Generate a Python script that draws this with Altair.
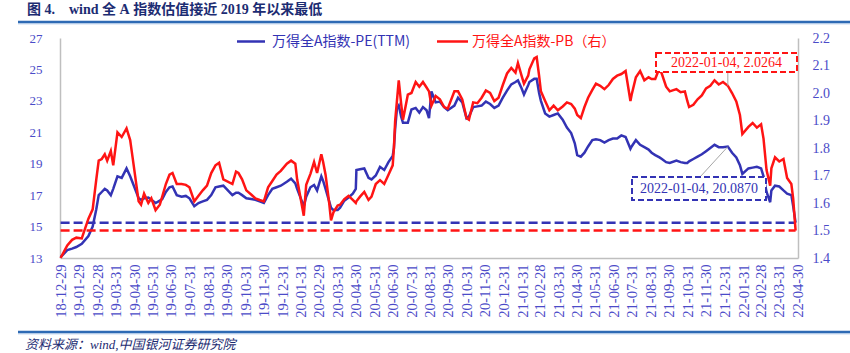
import altair as alt
import pandas as pd

# ---------------- data ----------------
dates = [
    "2018-12-28",
    "2019-01-08", "2019-01-16", "2019-01-23",
    "2019-02-01", "2019-02-12", "2019-02-19", "2019-02-25",
    "2019-03-01", "2019-03-06", "2019-03-11", "2019-03-15", "2019-03-21", "2019-03-25",
    "2019-04-01", "2019-04-08", "2019-04-16", "2019-04-22", "2019-04-26",
    "2019-05-06", "2019-05-10", "2019-05-15", "2019-05-22", "2019-05-27",
    "2019-06-03", "2019-06-10", "2019-06-14", "2019-06-20", "2019-06-26",
    "2019-07-01", "2019-07-08", "2019-07-16", "2019-07-23", "2019-07-29",
    "2019-08-06", "2019-08-13", "2019-08-20", "2019-08-27",
    "2019-09-03", "2019-09-10", "2019-09-16", "2019-09-23",
    "2019-10-08", "2019-10-14", "2019-10-18", "2019-10-24", "2019-10-31",
    "2019-11-08", "2019-11-15", "2019-11-22", "2019-11-29",
    "2019-12-06", "2019-12-13", "2019-12-20", "2019-12-27",
    "2020-01-06", "2020-01-13", "2020-01-20", "2020-01-23",
    "2020-02-03", "2020-02-07", "2020-02-14", "2020-02-20", "2020-02-25",
    "2020-03-03", "2020-03-06", "2020-03-10", "2020-03-16", "2020-03-19", "2020-03-23", "2020-03-30",
    "2020-04-03", "2020-04-10", "2020-04-17", "2020-04-24", "2020-04-29", "2020-04-30",
    "2020-05-06", "2020-05-13", "2020-05-20", "2020-05-25",
    "2020-06-01", "2020-06-08", "2020-06-15", "2020-06-22", "2020-06-29",
    "2020-07-01", "2020-07-03", "2020-07-06", "2020-07-09", "2020-07-13", "2020-07-16", "2020-07-24", "2020-07-30",
    "2020-08-06", "2020-08-12", "2020-08-18", "2020-08-24", "2020-08-28",
    "2020-09-01", "2020-09-08", "2020-09-15", "2020-09-22", "2020-09-28",
    "2020-10-09", "2020-10-15", "2020-10-22", "2020-10-29",
    "2020-11-02", "2020-11-09", "2020-11-16", "2020-11-23", "2020-11-30",
    "2020-12-07", "2020-12-14", "2020-12-21", "2020-12-28",
    "2021-01-04", "2021-01-11", "2021-01-18", "2021-01-22", "2021-01-28",
    "2021-02-01", "2021-02-08", "2021-02-10", "2021-02-18", "2021-02-22", "2021-02-26",
    "2021-03-01", "2021-03-08", "2021-03-15", "2021-03-22", "2021-03-29",
    "2021-04-06", "2021-04-13", "2021-04-20", "2021-04-26", "2021-04-30",
    "2021-05-06", "2021-05-12", "2021-05-18", "2021-05-25", "2021-05-31",
    "2021-06-07", "2021-06-14", "2021-06-21", "2021-06-28",
    "2021-07-05", "2021-07-12", "2021-07-19", "2021-07-27", "2021-07-29",
    "2021-08-05", "2021-08-12", "2021-08-19", "2021-08-26", "2021-08-31",
    "2021-09-06", "2021-09-13", "2021-09-17", "2021-09-24", "2021-09-30",
    "2021-10-11", "2021-10-18", "2021-10-25", "2021-10-29",
    "2021-11-01", "2021-11-08", "2021-11-15", "2021-11-22", "2021-11-29",
    "2021-12-06", "2021-12-13", "2021-12-20", "2021-12-27",
    "2022-01-04", "2022-01-11", "2022-01-18", "2022-01-24", "2022-01-28",
    "2022-02-07", "2022-02-14", "2022-02-21", "2022-02-28",
    "2022-03-04", "2022-03-09", "2022-03-15", "2022-03-17", "2022-03-23", "2022-03-30",
    "2022-04-06", "2022-04-12", "2022-04-19", "2022-04-22", "2022-04-26",
]

pe_values = [
    13.05,
    13.5, 13.6, 13.7,
    13.9, 14.4, 15.0, 16.1,
    17.0, 17.2, 17.4, 17.3, 17.0, 17.4,
    18.2, 18.1, 18.7, 18.2, 17.8,
    16.8, 16.7, 16.8, 16.85, 16.7,
    16.5, 16.65, 16.75, 17.2, 17.5,
    17.55, 17.0, 16.9, 16.95, 16.8,
    16.3, 16.5, 16.6, 16.7,
    17.0, 17.5, 17.55, 17.6,
    17.0, 17.15, 17.15, 17.0, 16.8,
    16.75, 16.7, 16.6, 16.5,
    17.0, 17.4, 17.5, 17.6,
    17.85, 18.05, 17.75, 17.4,
    16.3, 16.9, 17.5, 17.65, 17.3,
    18.2, 17.9, 17.4, 16.6, 16.2, 16.05, 16.05,
    16.2, 16.65, 16.85, 17.1, 17.4, 18.6,
    18.65, 18.7, 18.1, 18.0,
    18.25, 18.8, 18.6, 19.1, 19.5,
    20.0, 21.2, 22.5, 22.7, 22.0, 21.6, 21.6, 22.45,
    22.55, 22.25, 22.6, 22.4, 21.9,
    23.6, 22.9, 22.95, 22.6, 22.4,
    22.7, 23.2, 22.9, 21.9,
    22.0, 22.6, 22.65, 22.7, 22.95,
    22.8, 22.55, 22.7, 23.2,
    23.65, 24.05, 24.2, 24.3, 23.8,
    23.4, 24.0, 24.2, 24.4, 24.4, 23.5,
    23.0, 22.2, 22.0, 22.1, 22.2,
    21.8, 21.3, 20.95, 20.3, 19.55,
    19.45, 19.7, 20.1, 20.5, 20.55,
    20.5, 20.35, 20.5, 20.6,
    20.6, 20.8, 20.7, 19.95, 20.1,
    20.5, 20.2, 20.05, 19.9, 19.7,
    19.55, 19.4, 19.3, 19.1, 19.05,
    19.2, 19.1, 19.05, 19.05,
    19.15, 19.3, 19.45, 19.6, 19.8,
    20.0, 20.2, 20.05, 20.05,
    20.087, 19.7, 19.4, 18.9, 18.35,
    18.7, 18.75, 18.8, 18.7,
    18.2, 17.2, 16.55, 17.3, 17.6, 17.55,
    17.3, 17.1, 17.0, 16.3, 15.25,
]

pb_values = [
    1.400,
    1.446, 1.466, 1.474,
    1.471, 1.543, 1.577, 1.686,
    1.754, 1.760, 1.777, 1.754, 1.789, 1.737,
    1.857, 1.840, 1.871, 1.829, 1.766,
    1.606, 1.594, 1.634, 1.600, 1.617,
    1.574, 1.594, 1.623, 1.669, 1.703,
    1.709, 1.669, 1.669, 1.666, 1.657,
    1.606, 1.626, 1.646, 1.663,
    1.709, 1.737, 1.746, 1.686,
    1.669, 1.714, 1.709, 1.686, 1.646,
    1.631, 1.617, 1.611, 1.606,
    1.657, 1.680, 1.703, 1.717,
    1.743, 1.754, 1.743, 1.686,
    1.554, 1.666, 1.706, 1.749, 1.709,
    1.777, 1.749, 1.703, 1.600, 1.537, 1.566, 1.591,
    1.594, 1.614, 1.626, 1.611, 1.600, 1.606,
    1.623, 1.640, 1.611, 1.623,
    1.669, 1.683, 1.669, 1.703, 1.737,
    1.800, 1.897, 1.971, 2.046, 1.960, 1.903, 1.994, 2.000,
    2.040, 2.023, 2.040, 2.020, 2.006,
    1.954, 1.989, 1.977, 1.949, 1.943,
    2.006, 2.006, 1.977, 1.909,
    1.903, 1.966, 1.963, 1.983, 2.009,
    2.000, 1.971, 1.983, 2.029,
    2.071, 2.091, 2.074, 2.109, 2.063,
    2.034, 2.063, 2.086, 2.126, 2.131, 2.063,
    2.006, 1.971, 1.937, 1.954, 1.937,
    1.951, 1.966, 1.960, 1.943, 1.920,
    1.909, 1.949, 1.983, 2.011, 2.034,
    2.026, 2.014, 2.029, 2.051,
    2.063, 2.069, 2.080, 1.971, 1.994,
    2.057, 2.080, 2.046, 2.057, 2.051,
    2.051, 2.091, 2.069, 2.023, 2.006,
    2.014, 2.003, 2.006, 1.971,
    1.949, 1.957, 1.977, 1.991, 2.017,
    2.026, 2.046, 2.031, 2.040,
    2.0264, 2.000, 1.969, 1.920, 1.851,
    1.877, 1.891, 1.874, 1.886,
    1.834, 1.720, 1.663, 1.726, 1.766, 1.751,
    1.760, 1.691, 1.669, 1.617, 1.500,
]

x_tick_dates = [
    "2018-12-29", "2019-01-29", "2019-02-28", "2019-03-31", "2019-04-30", "2019-05-31",
    "2019-06-30", "2019-07-31", "2019-08-31", "2019-09-30", "2019-10-31", "2019-11-30",
    "2019-12-31", "2020-01-31", "2020-02-29", "2020-03-31", "2020-04-30", "2020-05-31",
    "2020-06-30", "2020-07-31", "2020-08-31", "2020-09-30", "2020-10-31", "2020-11-30",
    "2020-12-31", "2021-01-31", "2021-02-28", "2021-03-31", "2021-04-30", "2021-05-31",
    "2021-06-30", "2021-07-31", "2021-08-31", "2021-09-30", "2021-10-31", "2021-11-30",
    "2021-12-31", "2022-01-31", "2022-02-28", "2022-03-31", "2022-04-30",
]
left_ticks = [13, 15, 17, 19, 21, 23, 25, 27]
right_ticks = [1.4, 1.5, 1.6, 1.7, 1.8, 1.9, 2.0, 2.1, 2.2]

pe_latest = 15.25
pb_latest = 1.50
annot_date = "2022-01-04"

pe_name = "万得全A指数-PE(TTM)"
pb_name = "万得全A指数-PB（右）"
NB = "\u00a0"
title_text = f"图{NB}4.{NB}{NB}{NB}{NB}wind{NB}全{NB}A{NB}指数估值接近{NB}2019{NB}年以来最低"
source_text = "资料来源：wind,中国银河证券研究院"

assert len(dates) == len(pe_values) == len(pb_values)

# ---------------- styling ----------------
BLUE = "#3333B4"
RED = "#FF1414"
LABEL = "#4B4BC8"
NAVY = "#1C2C72"
AXIS_GRAY = "#BFBFBF"

df = pd.DataFrame({"date": dates, "PE": pe_values, "PB": pb_values})
ia = dates.index(annot_date)
annot = pd.DataFrame({
    "date": [annot_date],
    "PE": [pe_values[ia]],
    "PB": [pb_values[ia]],
    "pe_label": [f"{annot_date}, {pe_values[ia]:.4f}"],
    "pb_label": [f"{annot_date}, {pb_values[ia]:.4f}"],
})
levels = pd.DataFrame({"start": [dates[0]], "end": [dates[-1]],
                       "PE": [pe_latest], "PB": [pb_latest]})
one = pd.DataFrame({"k": [0]})


def ms(d):
    return int(pd.Timestamp(d, tz="UTC").timestamp() * 1000)


x_scale = alt.Scale(type="utc", domain=[ms("2018-12-27"), ms("2022-04-30")])
x_axis = alt.Axis(
    values=[ms(d) for d in x_tick_dates],
    labelExpr="utcFormat(datum.value, '%y-%m-%d')",
    labelAngle=270, labelFont="Liberation Serif", labelFontSize=14.5,
    labelColor=LABEL, labelPadding=6, labelOverlap=False, labelFlush=False,
    ticks=False, grid=False, domainColor=AXIS_GRAY, domainWidth=1.5, title=None,
)
X = alt.X("date:T", scale=x_scale, axis=x_axis)

yl_scale = alt.Scale(domain=[13, 27], nice=False, zero=False)
yl_axis = alt.Axis(orient="left", values=left_ticks, format="d", title=None, grid=False,
                   ticks=False, domainColor=AXIS_GRAY, domainWidth=1.5,
                   labelFont="Liberation Serif", labelFontSize=13, labelColor=LABEL,
                   labelPadding=18)
yr_scale = alt.Scale(domain=[1.4, 2.2], nice=False, zero=False)
yr_axis = alt.Axis(orient="right", values=right_ticks, format=".1f", title=None, grid=False,
                   ticks=False, domainColor=AXIS_GRAY, domainWidth=1.5,
                   labelFont="Liberation Serif", labelFontSize=14, labelColor=LABEL,
                   labelPadding=14)

# ---------------- left (PE) ----------------
pe_line = alt.Chart(df).mark_line(color=BLUE, strokeWidth=2.5).encode(
    x=X, y=alt.Y("PE:Q", scale=yl_scale, axis=yl_axis))
pe_level = alt.Chart(levels).mark_rule(color=BLUE, strokeWidth=2.5, strokeDash=[9, 4]).encode(
    x=alt.X("start:T", scale=x_scale, axis=x_axis), x2="end:T",
    y=alt.Y("PE:Q", scale=yl_scale, axis=yl_axis))
pe_leader = alt.Chart(annot).mark_rule(color="#A6A6A6", strokeWidth=1).encode(
    x=X, y=alt.Y("PE:Q", scale=yl_scale, axis=yl_axis),
    x2=alt.value(640), y2=alt.value(139))
left = alt.layer(pe_line, pe_level, pe_leader)

# ---------------- right (PB) ----------------
pb_line = alt.Chart(df).mark_line(color=RED, strokeWidth=2.5).encode(
    x=X, y=alt.Y("PB:Q", scale=yr_scale, axis=yr_axis))
pb_level = alt.Chart(levels).mark_rule(color=RED, strokeWidth=2.5, strokeDash=[9, 4]).encode(
    x=alt.X("start:T", scale=x_scale, axis=x_axis), x2="end:T",
    y=alt.Y("PB:Q", scale=yr_scale, axis=yr_axis))
pb_leader = alt.Chart(annot).mark_rule(color="#A6A6A6", strokeWidth=1).encode(
    x=X, y=alt.Y("PB:Q", scale=yr_scale, axis=yr_axis), y2=alt.value(34))
right = alt.layer(pb_line, pb_level, pb_leader)

# ---------------- annotation boxes ----------------
pb_box = alt.Chart(one).mark_rect(fill="white", stroke=RED, strokeWidth=2, strokeDash=[6, 3]).encode(
    x=alt.value(596), x2=alt.value(737), y=alt.value(15), y2=alt.value(34))
pb_text = alt.Chart(annot).mark_text(color=RED, font="Liberation Serif", fontSize=14,
                                     align="center", baseline="middle").encode(
    x=alt.value(666.5), y=alt.value(25), text="pb_label:N")
pe_box = alt.Chart(one).mark_rect(fill="white", stroke=BLUE, strokeWidth=2, strokeDash=[6, 3]).encode(
    x=alt.value(572), x2=alt.value(706), y=alt.value(139), y2=alt.value(162))
pe_text = alt.Chart(annot).mark_text(color=BLUE, font="Liberation Serif", fontSize=14,
                                     align="center", baseline="middle").encode(
    x=alt.value(639), y=alt.value(151), text="pe_label:N")

# ---------------- legend ----------------
leg_font = "Noto Sans CJK SC"
leg_blue_line = alt.Chart(one).mark_rule(color=BLUE, strokeWidth=2.5).encode(
    x=alt.value(177), x2=alt.value(205), y=alt.value(3.5))
leg_blue_text = alt.Chart(one).mark_text(color=BLUE, font=leg_font, fontSize=14,
                                         align="left", baseline="middle").encode(
    x=alt.value(212), y=alt.value(3.5), text=alt.value(pe_name))
leg_red_line = alt.Chart(one).mark_rule(color=RED, strokeWidth=2.5).encode(
    x=alt.value(377), x2=alt.value(408), y=alt.value(3.5))
leg_red_text = alt.Chart(one).mark_text(color=RED, font=leg_font, fontSize=14,
                                        align="left", baseline="middle").encode(
    x=alt.value(412), y=alt.value(3.5), text=alt.value(pb_name))

# ---------------- title / source decoration ----------------
title = alt.Chart(one).mark_text(color=NAVY, font="Liberation Serif, Noto Sans CJK SC",
                                 fontSize=14, fontWeight="bold",
                                 align="left", baseline="middle").encode(
    x=alt.value(-33), y=alt.value(-28.5), text=alt.value(title_text))
top_rule = alt.Chart(one).mark_rule(color="#2E6AB4", strokeWidth=2.5).encode(
    x=alt.value(-42), x2=alt.value(790), y=alt.value(-16))
top_rule2 = alt.Chart(one).mark_rule(color="#A9C4E6", strokeWidth=1).encode(
    x=alt.value(-42), x2=alt.value(790), y=alt.value(-14.2))
bottom_rule = alt.Chart(one).mark_rule(color="#2E6AB4", strokeWidth=2.5).encode(
    x=alt.value(-42), x2=alt.value(790), y=alt.value(294))
bottom_rule2 = alt.Chart(one).mark_rule(color="#A9C4E6", strokeWidth=1).encode(
    x=alt.value(-42), x2=alt.value(790), y=alt.value(295.8))
source = alt.Chart(one).mark_text(color=NAVY, font="Liberation Serif, Noto Sans CJK SC",
                                  fontSize=13, fontStyle="italic",
                                  align="left", baseline="middle").encode(
    x=alt.value(-35), y=alt.value(307), text=alt.value(source_text))

chart = alt.layer(
    left, right,
    pb_box, pb_text, pe_box, pe_text,
    leg_blue_line, leg_blue_text, leg_red_line, leg_red_text,
    title, top_rule, top_rule2, bottom_rule, bottom_rule2, source,
).resolve_scale(y="independent").properties(
    width=738, height=220,
    padding={"left": 60, "top": 38, "right": 52, "bottom": 95},
    autosize=alt.AutoSizeParams(type="none"),
    background="white",
).configure_view(stroke=None)

chart.save("out.html", embed_options={"renderer": "svg", "actions": False})
